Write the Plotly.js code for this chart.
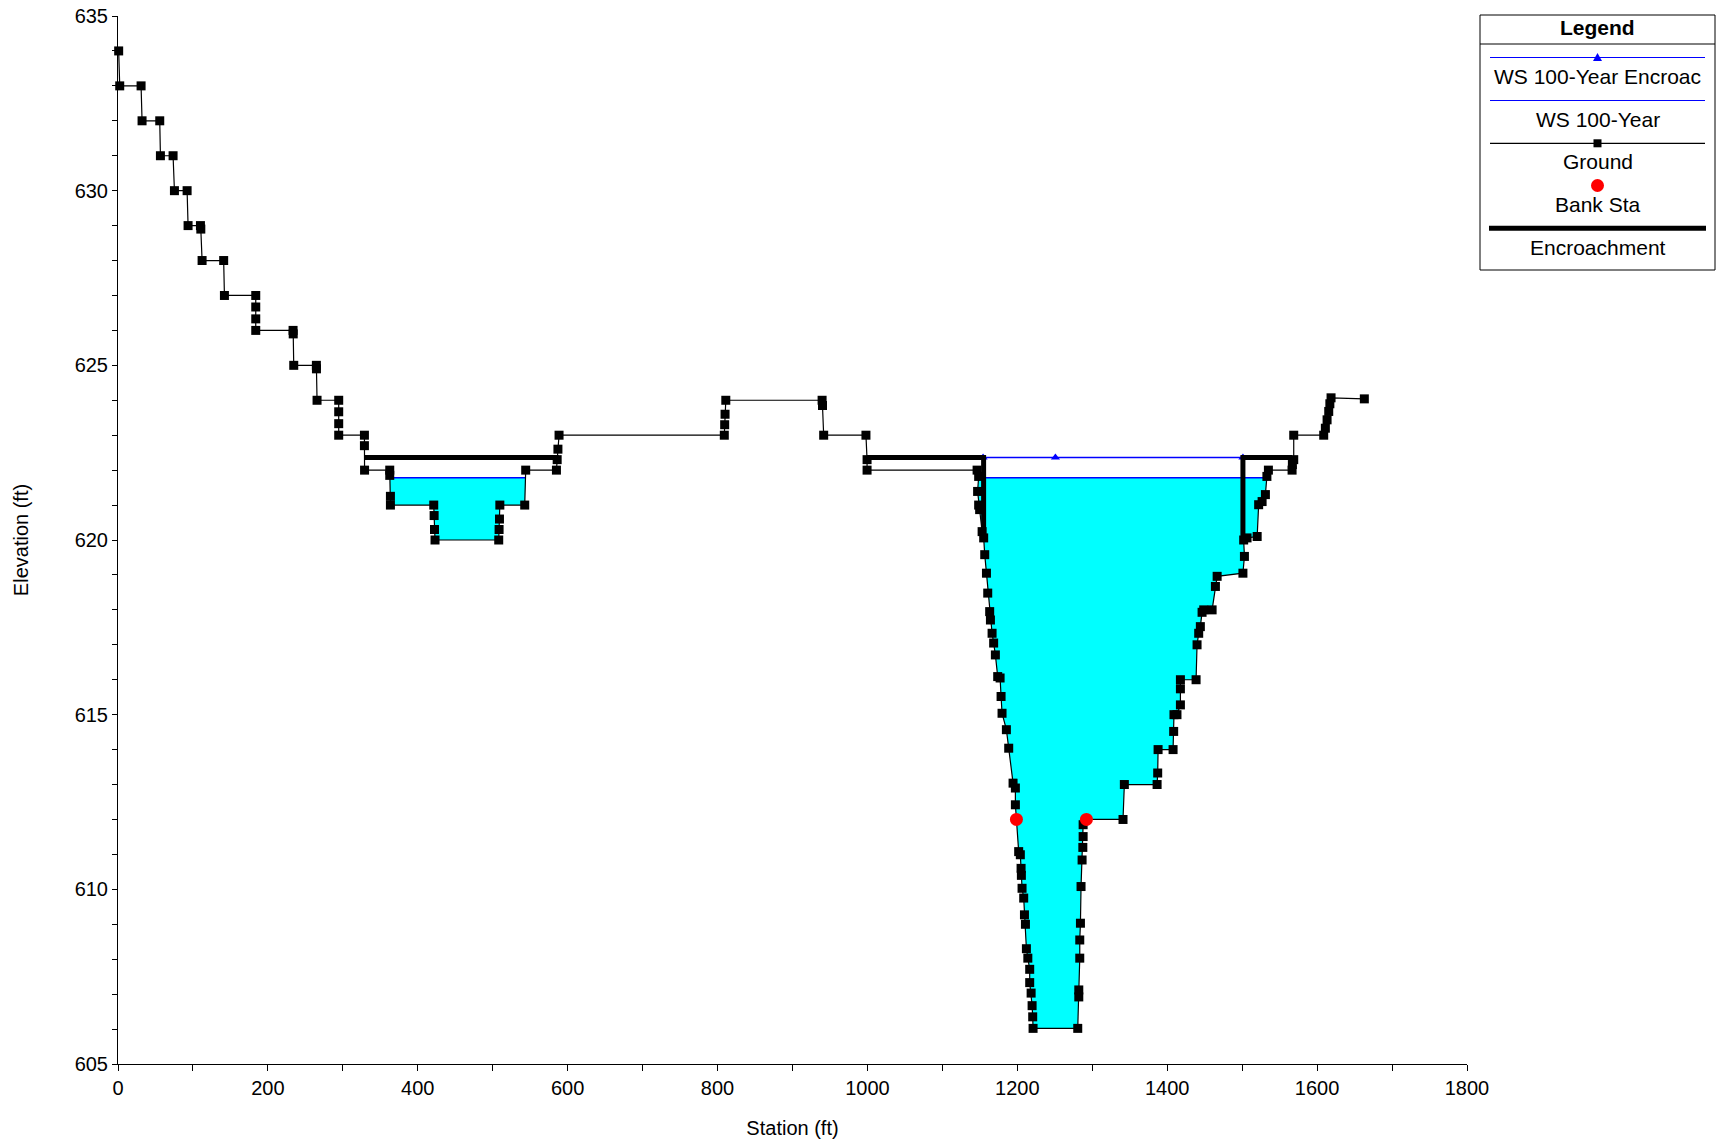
<!DOCTYPE html>
<html>
<head>
<meta charset="utf-8">
<script src="https://cdn.plot.ly/plotly-3.0.1.min.js"></script>
<style>html,body{margin:0;padding:0;background:#fff;}#chart{width:1723px;height:1146px;}</style>
</head>
<body>
<div id="chart"></div>
<script>
// ---------------- DATA ----------------
const groundStation = [
  0.9, 2.3, 30.8, 32.1, 55.7, 56.6, 73.5, 75.3, 92.2, 93.5,
  110, 110.5, 112.2, 141, 142, 183.8, 183.8, 183.8, 183.8, 233.6,
  233.8, 234.5, 264.7, 264.8, 265.6, 294.5, 294.5, 294.5, 294.5, 328.8,
  328.8, 329, 362.6, 362.6, 363.5, 363.5, 421.3, 421.8, 422.3, 423,
  508, 508.5, 509, 509.5, 542.7, 544, 585, 586, 587, 588.5,
  809, 809.5, 810, 811, 939.5, 940, 941.6, 998, 999.5, 999.5,
  1146.3, 1148.4, 1147, 1148.4, 1149.7, 1153, 1155.1, 1156.5, 1158.8, 1160.5,
  1163.1, 1164.1, 1166.3, 1168.4, 1170.7, 1173.8, 1177, 1178.3, 1179.6, 1185.4,
  1188.5, 1194.3, 1197.4, 1197.4, 1198.8, 1201.8, 1204, 1205, 1205.4, 1206.3,
  1208.5, 1209.5, 1210.8, 1212.1, 1214, 1216.5, 1216.5, 1218.4, 1219.7, 1220.5,
  1221, 1280.6, 1282, 1282, 1283.3, 1283.3, 1284.2, 1285, 1286.4, 1287.4,
  1287.8, 1287.8, 1292.2, 1341, 1342.8, 1386.5, 1387.3, 1387.8, 1407.8, 1408.6,
  1409, 1413, 1417.6, 1417.6, 1417.6, 1438.5, 1439.8, 1442, 1444.2, 1446.5,
  1448.7, 1459.9, 1464.3, 1466.6, 1501, 1503, 1502, 1506.5, 1520, 1522,
  1526.6, 1531, 1533, 1535, 1566.6, 1567, 1568.8, 1568.8, 1608.8, 1611,
  1613.3, 1615.5, 1617, 1618.6, 1663
];
const groundElev = [
  634, 633, 633, 632, 632, 631, 631, 630, 630, 629,
  629, 628.9, 628, 628, 627, 627, 626.67, 626.33, 626, 626,
  625.9, 625, 625, 624.9, 624, 624, 623.67, 623.33, 623, 623,
  622.7, 622, 622, 621.85, 621.25, 621, 621, 620.7, 620.3, 620,
  620, 620.3, 620.6, 621, 621, 622, 622, 622.3, 622.6, 623,
  623, 623.3, 623.6, 624, 624, 623.85, 623, 623, 622.3, 622,
  622, 621.82, 621.39, 621, 620.87, 620.24, 620.06, 619.58, 619.05, 618.48,
  617.95, 617.71, 617.33, 617.05, 616.71, 616.09, 616.05, 615.52, 615.04, 614.57,
  614.04, 613.04, 612.9, 612.42, 612, 611.08, 610.99, 610.6, 610.4, 610.03,
  609.75, 609.27, 609, 608.3, 608.03, 607.71, 607.33, 607.03, 606.67, 606.35,
  606.02, 606.02, 606.92, 607.12, 608.03, 608.55, 609.03, 610.08, 610.84, 611.2,
  611.51, 611.85, 612, 612, 613, 613, 613.33, 614, 614, 614.52,
  615, 615, 615.28, 615.74, 616, 616, 617, 617.33, 617.52, 617.93,
  618, 618, 618.67, 618.96, 619.05, 619.53, 620, 620.06, 620.1, 621.01,
  621.1, 621.3, 621.82, 622, 622, 622.16, 622.3, 623, 623, 623.2,
  623.44, 623.68, 623.9, 624.07, 624.04
];
const ws100Elev = 621.78;                       // WS 100-Year
const wsEncStation = [1154.3, 1250.8, 1501];    // WS 100-Year Encroachment
const wsEncElev = [622.36, 622.36, 622.36];
const encStation = [328.5, 588, null, 999.5, 1155, 1155, null, 1501, 1501, 1566.6];
const encElev = [622.36, 622.36, null, 622.36, 622.36, 620.06, null, 620.0, 622.36, 622.36];
const bankStation = [1198.8, 1292.2];
const bankElev = [612, 612];
const xTickVals = [0, 200, 400, 600, 800, 1000, 1200, 1400, 1600, 1800];
const yTickVals = [605, 610, 615, 620, 625, 630, 635];
const legendLabels = ['WS 100-Year Encroac', 'WS 100-Year', 'Ground', 'Bank Sta', 'Encroachment'];

// ------------- water polygons (ground below WS) -------------
function waterPolys(xs, ys, ws) {
  const px = [], py = [], lx = [], ly = [];
  let cur = [];
  if (ys[0] < ws) cur.push([xs[0], ys[0]]);
  for (let i = 0; i < xs.length - 1; i++) {
    const y0 = ys[i], y1 = ys[i + 1];
    const b0 = y0 < ws, b1 = y1 < ws;
    if (b0 !== b1) {
      const t = (ws - y0) / (y1 - y0);
      const xi = xs[i] + t * (xs[i + 1] - xs[i]);
      if (!b0 && b1) { cur = [[xi, ws]]; }
      else {
        cur.push([xi, ws]);
        cur.forEach(p => { px.push(p[0]); py.push(p[1]); });
        px.push(null); py.push(null);
        lx.push(cur[0][0], xi, null); ly.push(ws, ws, null);
        cur = [];
      }
    }
    if (b1) cur.push([xs[i + 1], y1]);
  }
  return {px, py, lx, ly};
}
const W = waterPolys(groundStation, groundElev, ws100Elev);

// ---------------- TRACES ----------------
const traces = [
  {x: W.px, y: W.py, type: 'scatter', mode: 'lines', fill: 'toself',
   fillcolor: '#00FFFF', line: {width: 0, color: '#00FFFF'}, hoverinfo: 'skip'},
  {x: W.lx, y: W.ly, type: 'scatter', mode: 'lines', name: legendLabels[1],
   line: {color: '#0000FF', width: 1.5}},
  {x: wsEncStation, y: wsEncElev, type: 'scatter', mode: 'lines+markers', name: legendLabels[0],
   line: {color: '#0000FF', width: 1.5}, marker: {symbol: 'triangle-up', size: 8, color: '#0000FF'}},
  {x: groundStation, y: groundElev, type: 'scatter', mode: 'lines+markers', name: legendLabels[2],
   cliponaxis: false,
   line: {color: '#000000', width: 1.2}, marker: {symbol: 'square', size: 9, color: '#000000'}},
  {x: encStation, y: encElev, type: 'scatter', mode: 'lines', name: legendLabels[4],
   line: {color: '#000000', width: 5}},
  {x: bankStation, y: bankElev, type: 'scatter', mode: 'markers', name: legendLabels[3],
   marker: {symbol: 'circle', size: 13, color: '#FF0000'}}
];

// ---------------- LAYOUT ----------------
const L = 118, T = 16, PW = 1349, PH = 1048;
const fx = X => (X - L) / PW;
const fy = Y => (T + PH - Y) / PH;
const LX = 1597.5;
const shapes = [
  {type: 'rect', xref: 'paper', yref: 'paper', x0: fx(1480), x1: fx(1715), y0: fy(15), y1: fy(270),
   line: {color: '#000', width: 1}, fillcolor: '#fff', layer: 'below'},
  {type: 'line', xref: 'paper', yref: 'paper', x0: fx(1480), x1: fx(1715), y0: fy(44), y1: fy(44), line: {color: '#000', width: 1}},
  {type: 'line', xref: 'paper', yref: 'paper', x0: fx(1490), x1: fx(1705), y0: fy(57.5), y1: fy(57.5), line: {color: '#0000FF', width: 1.2}},
  {type: 'path', xref: 'paper', yref: 'paper', fillcolor: '#0000FF', line: {color: '#0000FF', width: 0},
   path: `M${fx(LX-4.5)},${fy(61)} L${fx(LX+4.5)},${fy(61)} L${fx(LX)},${fy(53)} Z`},
  {type: 'line', xref: 'paper', yref: 'paper', x0: fx(1490), x1: fx(1705), y0: fy(100.5), y1: fy(100.5), line: {color: '#0000FF', width: 1.2}},
  {type: 'line', xref: 'paper', yref: 'paper', x0: fx(1490), x1: fx(1705), y0: fy(143.3), y1: fy(143.3), line: {color: '#000', width: 1.2}},
  {type: 'rect', xref: 'paper', yref: 'paper', x0: fx(LX-4), x1: fx(LX+4), y0: fy(147.3), y1: fy(139.3), fillcolor: '#000', line: {width: 0}},
  {type: 'circle', xref: 'paper', yref: 'paper', x0: fx(LX-6.5), x1: fx(LX+6.5), y0: fy(192), y1: fy(179), fillcolor: '#FF0000', line: {width: 0}},
  {type: 'line', xref: 'paper', yref: 'paper', x0: fx(1489), x1: fx(1706), y0: fy(228.3), y1: fy(228.3), line: {color: '#000', width: 5}}
];
const ann = (txt, Y, bold) => ({xref: 'paper', yref: 'paper', x: fx(LX), y: fy(Y), xanchor: 'center', yanchor: 'middle',
  showarrow: false, text: bold ? '<b>' + txt + '</b>' : txt, font: {size: 21, color: '#000'}});
const annotations = [
  ann('Legend', 27.5, true),
  ann(legendLabels[0], 76.5), ann(legendLabels[1], 119.5), ann(legendLabels[2], 161.5),
  ann(legendLabels[3], 204.5), ann(legendLabels[4], 247.5)
];

const axisCommon = {
  showgrid: false, zeroline: false, showline: true, linecolor: '#000', linewidth: 1,
  ticks: 'outside', tickcolor: '#000', tickwidth: 1, tickfont: {size: 20, color: '#000'}
};
const layout = {
  width: 1723, height: 1146,
  margin: {l: L, r: 1723 - L - PW, t: T, b: 1146 - T - PH},
  paper_bgcolor: '#fff', plot_bgcolor: '#fff',
  font: {family: '"Liberation Sans", Arial, sans-serif', size: 20, color: '#000'},
  showlegend: false,
  xaxis: Object.assign({}, axisCommon, {
    range: [0, 1800], tickmode: 'array', tickvals: xTickVals, ticklen: 6,
    minor: {dtick: 100, tick0: 0, ticks: 'outside', ticklen: 6, tickcolor: '#000', showgrid: false},
    title: {text: 'Station (ft)', font: {size: 20}, standoff: 22}
  }),
  yaxis: Object.assign({}, axisCommon, {
    range: [605, 635], tickmode: 'array', tickvals: yTickVals, ticklen: 5,
    minor: {dtick: 1, tick0: 605, ticks: 'outside', ticklen: 5, tickcolor: '#000', showgrid: false},
    title: {text: 'Elevation (ft)', font: {size: 20}, standoff: 40}
  }),
  shapes: shapes,
  annotations: annotations
};

Plotly.newPlot('chart', traces, layout, {staticPlot: true, displayModeBar: false});
</script>
</body>
</html>
